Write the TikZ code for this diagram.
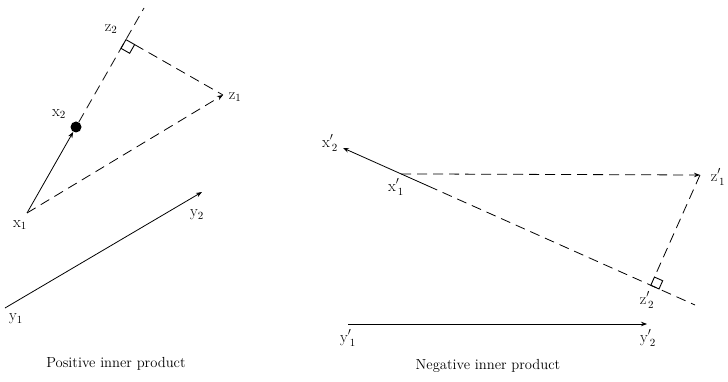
\documentclass[tikz,border=0pt]{standalone}
\usetikzlibrary{arrows.meta,calc}
\begin{document}
\begin{tikzpicture}[x=1pt,y=-1pt,
  tipstyle/.style={-{Stealth[length=6pt,width=4.5pt]}},
  vec/.style={line width=0.8pt,tipstyle},
  dsh/.style={line width=0.8pt,dash pattern=on 10pt off 6pt},
  rightangle/.style={line width=0.9pt},
  lbl/.style={inner sep=0pt,font=\fontsize{16}{18}\selectfont},
  captxt/.style={inner sep=0pt,font=\fontsize{14.6}{17}\selectfont}]
\useasboundingbox (0,0) rectangle (728,382);
% ---------- left: positive inner product ----------
\coordinate (x1) at (27,213);
\node[circle,fill,inner sep=0pt,minimum size=11pt] (x2) at (76,127) {};
\coordinate (top) at (144,8);
\coordinate (z1) at (223,95);
\coordinate (z2) at ($(x1)!(z1)!(top)$);
\coordinate (s2a) at ($(z2)!10pt!(x1)$);
\coordinate (s2c) at ($(z2)!10pt!(z1)$);
\draw[vec] (x1) -- (x2);
\draw[dsh,tipstyle] (x1) -- (z1);
\draw[dsh] (x2) -- (top);
\draw[rightangle] (z2) -- (s2a) -- ($(s2a)+(s2c)-(z2)$) -- (s2c) -- cycle;
\draw[dsh] (s2c) -- (z1);
\coordinate (y1) at (5,308);
\coordinate (y2) at (202,192);
\draw[vec] (y1) -- (y2);
\node[lbl] (lx1) at (20,225) {x$_1$};
\node[lbl] (lx2) at (59,114) {x$_2$};
\node[lbl] (lz2) at (111,29) {z$_2$};
\node[lbl] (lz1) at (235,97) {z$_1$};
\node[lbl] (ly2) at (197,215) {y$_2$};
\node[lbl] (ly1) at (16,319) {y$_1$};
\node[captxt] (c1) at (116,364) {Positive inner product};
% ---------- right: negative inner product ----------
\coordinate (xp2) at (343,148);
\coordinate (endp) at (695,305);
\coordinate (xp1) at ($(xp2)!0.165!(endp)$);
\coordinate (P) at ($(xp2)!0.2415!(endp)$);
\coordinate (zp1) at (700,175);
\coordinate (zp2) at ($(xp2)!(zp1)!(endp)$);
\coordinate (spa) at ($(zp2)!9pt!(endp)$);
\coordinate (spc) at ($(zp2)!9pt!(zp1)$);
\draw[vec] (P) -- (xp2);
\draw[dsh] (P) -- (endp);
\draw[dsh,tipstyle] (xp1) -- (zp1);
\draw[rightangle] (zp2) -- (spa) -- ($(spa)+(spc)-(zp2)$) -- (spc) -- cycle;
\draw[dsh] (zp1) -- (spc);
\coordinate (yp1) at (348,324);
\coordinate (yp2) at (647,324);
\draw[vec] (yp1) -- (yp2);
\node[lbl] (lxp2) at (330,143) {x$'_{\,2}$};
\node[lbl] (lxp1) at (396,187) {x$'_{\,1}$};
\node[lbl] (lzp1) at (718,177) {z$'_{\,1}$};
\node[lbl] (lzp2) at (647,300) {z$'_{\,2}$};
\node[lbl] (lyp1) at (348,338) {y$'_{\,1}$};
\node[lbl] (lyp2) at (648,338) {y$'_{\,2}$};
\node[captxt] (c2) at (488,366) {Negative inner product};
\end{tikzpicture}
\end{document}
